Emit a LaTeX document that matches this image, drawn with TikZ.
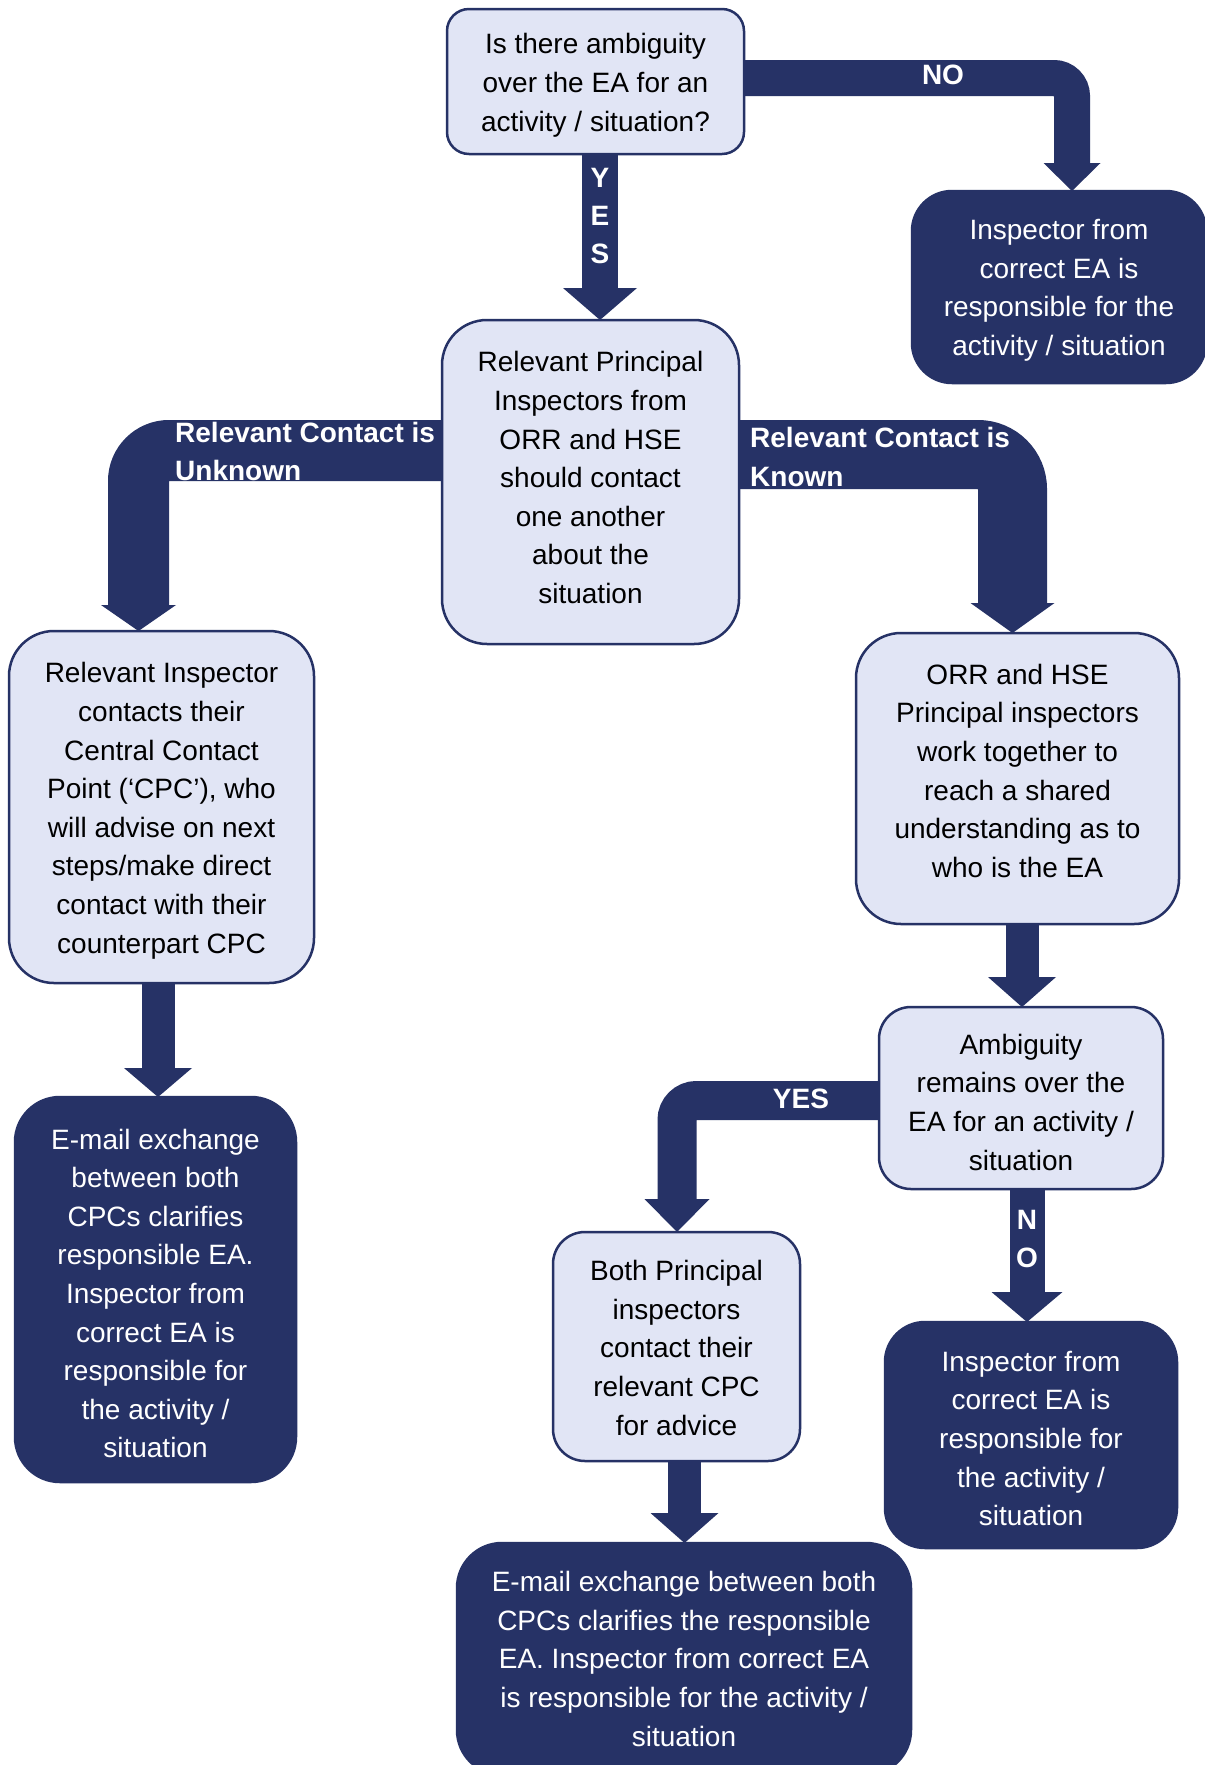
\documentclass[tikz,border=0pt]{standalone}
\usepackage{fontspec}
\setmainfont{Liberation Sans}
\usetikzlibrary{arrows.meta}
\definecolor{navy}{RGB}{38,50,102}
\definecolor{lightbox}{RGB}{225,229,245}
% #1: extra height added on top (twice the downward shift of the text), #2: lines
\newcommand{\btx}[2]{\raisebox{0pt}[\dimexpr\height+#1\relax][\depth]{\begin{tabular}{@{}c@{}}#2\end{tabular}}}
\tikzset{
  boxtext/.style={font=\fontsize{28}{38.6}\selectfont, inner sep=0pt, outer sep=0pt},
  lightbox/.style={boxtext, draw=navy, fill=lightbox, line width=2.5pt, text=black},
  darkbox/.style={boxtext, draw=navy, fill=navy, line width=2.5pt, text=white},
  conn/.style n args={3}{draw=navy, line width=#1pt, line cap=butt,
     -{Triangle[width=#2pt, length=#3pt, line width=0pt]}},
  lbl/.style={font=\fontsize{28}{38}\selectfont\bfseries, text=white, inner sep=0pt},
}
\begin{document}
\begin{tikzpicture}[x=1pt, y=-1pt]
\useasboundingbox (0,0) rectangle (1205,1765);
\clip (0,0) rectangle (1205,1765);
\fill[white] (0,0) rectangle (1205,1765);

% boxes
\node[lightbox, minimum width=297pt, minimum height=145pt, rounded corners=22pt] (b1) at (595.5,81.5)
  {\btx{6.4pt}{Is there ambiguity\\over the EA for an\\activity / situation?}};
\node[darkbox, minimum width=294pt, minimum height=192pt, rounded corners=40pt] (b2) at (1059,287)
  {\btx{5.2pt}{Inspector from\\correct EA is\\responsible for the\\activity / situation}};
\node[lightbox, minimum width=297pt, minimum height=324pt, rounded corners=45pt] (b3) at (590.5,482)
  {\btx{-4pt}{Relevant Principal\\Inspectors from\\ORR and HSE\\should contact\\one another\\about the\\situation}};
\node[lightbox, minimum width=305pt, minimum height=352pt, rounded corners=45pt] (b4) at (161.5,807)
  {\btx{6.4pt}{Relevant Inspector\\contacts their\\Central Contact\\Point (‘CPC’), who\\will advise on next\\steps/make direct\\contact with their\\counterpart CPC}};
\node[lightbox, minimum width=323pt, minimum height=291pt, rounded corners=45pt] (b5) at (1017.5,778.5)
  {\btx{-10.8pt}{ORR and HSE\\Principal inspectors\\work together to\\reach a shared\\understanding as to\\who is the EA}};
\node[lightbox, minimum width=284pt, minimum height=182pt, rounded corners=32pt] (b6) at (1021,1098)
  {\btx{12.8pt}{Ambiguity\\remains over the\\EA for an activity /\\situation}};
\node[lightbox, minimum width=247pt, minimum height=229pt, rounded corners=32pt] (b7) at (676.5,1346.5)
  {\btx{7.4pt}{Both Principal\\inspectors\\contact their\\relevant CPC\\for advice}};
\node[darkbox, minimum width=292pt, minimum height=226pt, rounded corners=40pt] (b8) at (1031,1435)
  {\btx{11.6pt}{Inspector from\\correct EA is\\responsible for\\the activity /\\situation}};
\node[darkbox, minimum width=281pt, minimum height=385pt, rounded corners=45pt] (b9) at (155.5,1289.5)
  {\btx{12.4pt}{E-mail exchange\\between both\\CPCs clarifies\\responsible EA.\\Inspector from\\correct EA is\\responsible for\\the activity /\\situation}};
\node[darkbox, minimum width=454pt, minimum height=232pt, rounded corners=45pt] (b10) at (684,1659)
  {\btx{4.2pt}{E-mail exchange between both\\CPCs clarifies the responsible\\EA. Inspector from correct EA\\is responsible for the activity /\\situation}};

% helper coordinates
\coordinate (noX) at (1072,0);
\coordinate (noY) at (0,78);
\coordinate (yesX) at (600,0);
\coordinate (uX) at (138.5,0);
\coordinate (uY) at (0,450.5);
\coordinate (kX) at (1012.5,0);
\coordinate (kY) at (0,454.5);
\coordinate (x5) at (1022,0);
\coordinate (x6) at (677,0);
\coordinate (y6) at (0,1100.5);
\coordinate (x7) at (1027,0);
\coordinate (x8) at (158,0);
\coordinate (x9) at (684.5,0);

% connectors
\draw[conn={36}{57}{28}, rounded corners=18pt] (b1.east |- noY) -| (b2.north -| noX);
\draw[conn={36}{74}{32}] (b1.south -| yesX) -- (b3.north -| yesX);
\draw[conn={61}{75}{26}, rounded corners=30.5pt] (b3.west |- uY) -| (b4.north -| uX);
\draw[conn={69}{84}{30}, rounded corners=34.5pt] (b3.east |- kY) -| (b5.north -| kX);
\draw[conn={33}{68}{30}] (b5.south -| x5) -- (b6.north -| x5);
\draw[conn={39}{65}{33}, rounded corners=19.5pt] (b6.west |- y6) -| (b7.north -| x6);
\draw[conn={35}{71}{30}] (b6.south -| x7) -- (b8.north -| x7);
\draw[conn={33}{68}{29}] (b4.south -| x8) -- (b9.north -| x8);
\draw[conn={33}{68}{30}] (b7.south -| x9) -- (b10.north -| x9);

% labels
\node[lbl] (lno) at (943,75) {NO};
\node[lbl] (ly) at (600,178) {Y};
\node[lbl] (le) at (600,216) {E};
\node[lbl] (ls) at (600,254) {S};
\node[lbl, anchor=base west] (lu1) at (175,442) {Relevant Contact is};
\node[lbl, anchor=base west] (lu2) at (175,480) {Unknown};
\node[lbl, anchor=base west] (lk1) at (750,447) {Relevant Contact is};
\node[lbl, anchor=base west] (lk2) at (750,486) {Known};
\node[lbl] (lyes) at (801,1099) {YES};
\node[lbl] (ln) at (1027,1220) {N};
\node[lbl] (lo) at (1027,1258) {O};
\end{tikzpicture}
\end{document}
